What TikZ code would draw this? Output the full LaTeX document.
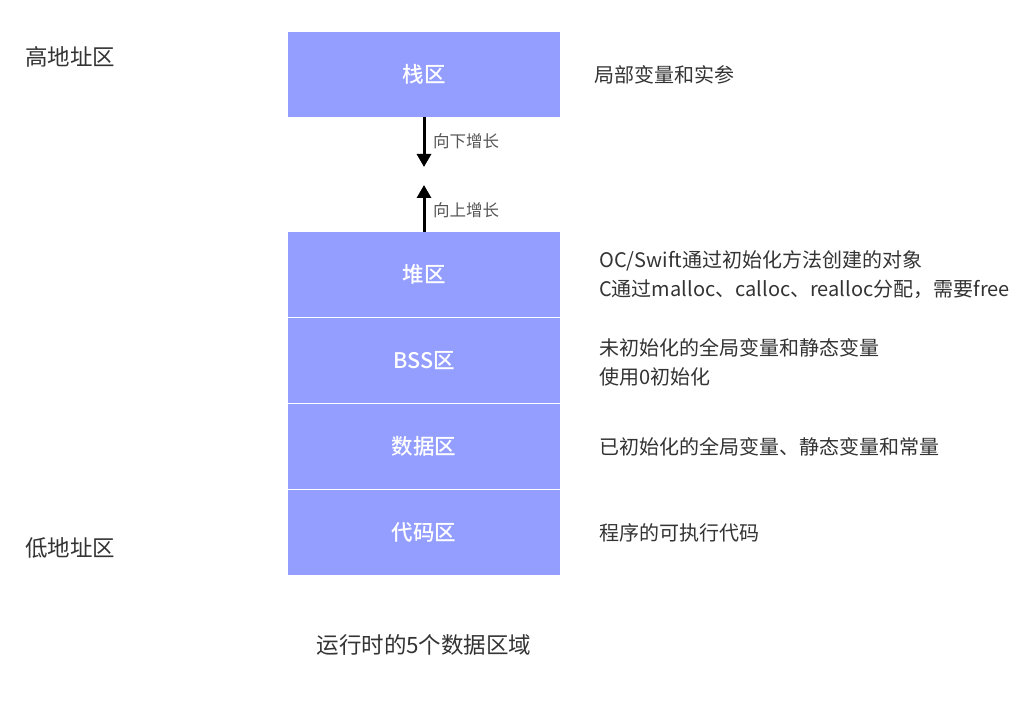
\documentclass[tikz,border=0pt]{standalone}
\usepackage{fontspec}
\setmainfont{Noto Sans CJK SC}
\newfontfamily\zhongti{Noto Sans CJK SC Medium}
\usetikzlibrary{arrows.meta}
\definecolor{qu}{RGB}{148,158,255}
\definecolor{wenzi}{RGB}{51,51,51}
\definecolor{huise}{RGB}{85,85,85}
\tikzset{
  qukuai/.style={fill=qu, minimum width=272pt, minimum height=85pt, inner sep=0pt,
    text=white, font=\zhongti\fontsize{21.5}{25}\selectfont},
  shuoming/.style={anchor=west, text=wenzi, inner sep=0pt, align=left,
    font=\fontsize{20}{29}\selectfont},
  dizhi/.style={anchor=west, text=wenzi, inner sep=0pt, font=\fontsize{22.5}{26}\selectfont},
  zengzhang/.style={anchor=west, text=huise, inner sep=0pt, font=\fontsize{16.5}{20}\selectfont},
  jiantou/.style={line width=3pt, -{Triangle[width=14pt,length=13pt]}}
}
\begin{document}
\begin{tikzpicture}[x=1pt,y=-1pt]
    \useasboundingbox (0,0) rectangle (1034,708);

    % Bloques de memoria
    \node[qukuai] (zhan) at (424,74.5) {栈区};
    \node[qukuai] (dui) at (424,274.5) {堆区};
    \node[qukuai] (bss) at (424,360.5) {BSS区};
    \node[qukuai] (shuju) at (424,446.5) {数据区};
    \node[qukuai] (daima) at (424,532.5) {代码区};

    % Flechas de crecimiento
    \coordinate (xia) at (424,167);
    \coordinate (shang) at (424,185);
    \draw[jiantou] (zhan.south) -- (xia);
    \draw[jiantou] (dui.north) -- (shang);
    \node[zengzhang] (xiazz) at (433,141) {向下增长};
    \node[zengzhang] (shangzz) at (433,210) {向上增长};

    % Direcciones
    \node[dizhi] (gao) at (25,57) {高地址区};
    \node[dizhi] (di) at (25,548) {低地址区};

    % Descripciones
    \node[shuoming] (zhansm) at (594,75) {局部变量和实参};
    \node[shuoming] (duism) at (599,275) {OC/Swift通过初始化方法创建的对象\\C通过malloc、calloc、realloc分配，需要free};
    \node[shuoming] (bsssm) at (599,362) {未初始化的全局变量和静态变量\\使用0初始化};
    \node[shuoming] (shujusm) at (599,447) {已初始化的全局变量、静态变量和常量};
    \node[shuoming] (daimasm) at (599,533) {程序的可执行代码};

    % Titulo
    \node[dizhi, anchor=center] (biaoti) at (424,645) {运行时的5个数据区域};
\end{tikzpicture}
\end{document}
